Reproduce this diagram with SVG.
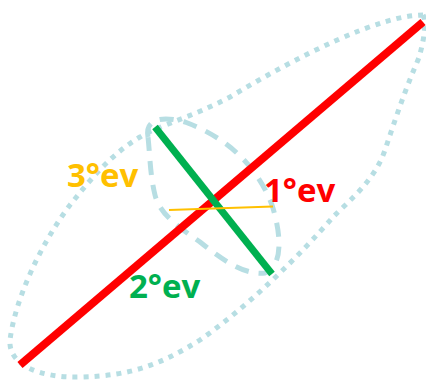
<svg xmlns="http://www.w3.org/2000/svg" width="426" height="381" viewBox="0 0 426 381">
<style>
.blob{fill:none;stroke:#B7DEE3;stroke-width:5}
.outer{stroke-dasharray:5 6}
.inner{stroke-dasharray:14 10}
.axis{stroke-linecap:butt}
.lbl{font-family:"Open Sans","Liberation Sans",sans-serif;font-weight:700;font-size:33px}
</style>
<rect width="426" height="381" fill="#fff"/>
<g id="outer-region">
<path class="blob outer" d="M 423 15 C 380 15, 300 55, 230 97 C 190 118, 160 125, 140 137 C 110 155, 90 180, 70 205 C 40 245, 15 300, 10 340 C 8 365, 40 378, 80 377 C 130 376, 160 365, 200 340 C 250 305, 300 255, 333 217 C 350 200, 375 180, 385 150 C 395 120, 405 90, 418 60 C 425 40, 426 20, 423 15 Z"/>
</g>
<g id="inner-region">
<path class="blob inner" d="M 148 137 C 145 120, 160 115, 185 122 C 220 135, 255 160, 272 205 C 280 230, 285 265, 265 273 C 245 275, 225 262, 200 242 C 180 228, 160 215, 155 195 C 150 175, 150 155, 148 137 Z"/>
</g>
<g id="axes">
<line id="ev1" class="axis" x1="20" y1="365" x2="423" y2="22" stroke="#FF0000" stroke-width="8"/>
<line id="ev2" class="axis" x1="155" y1="127" x2="272" y2="274" stroke="#00B050" stroke-width="7"/>
<line id="ev3" x1="169" y1="210" x2="273" y2="206.5" stroke="#FFC000" stroke-width="2"/>
</g>
<g id="labels">
<text class="lbl" x="67" y="187" fill="#FFC000">3°ev</text>
<text class="lbl" x="264" y="202" fill="#FF0000">1°ev</text>
<text class="lbl" x="129" y="298" fill="#00B050">2°ev</text>
</g>
</svg>
